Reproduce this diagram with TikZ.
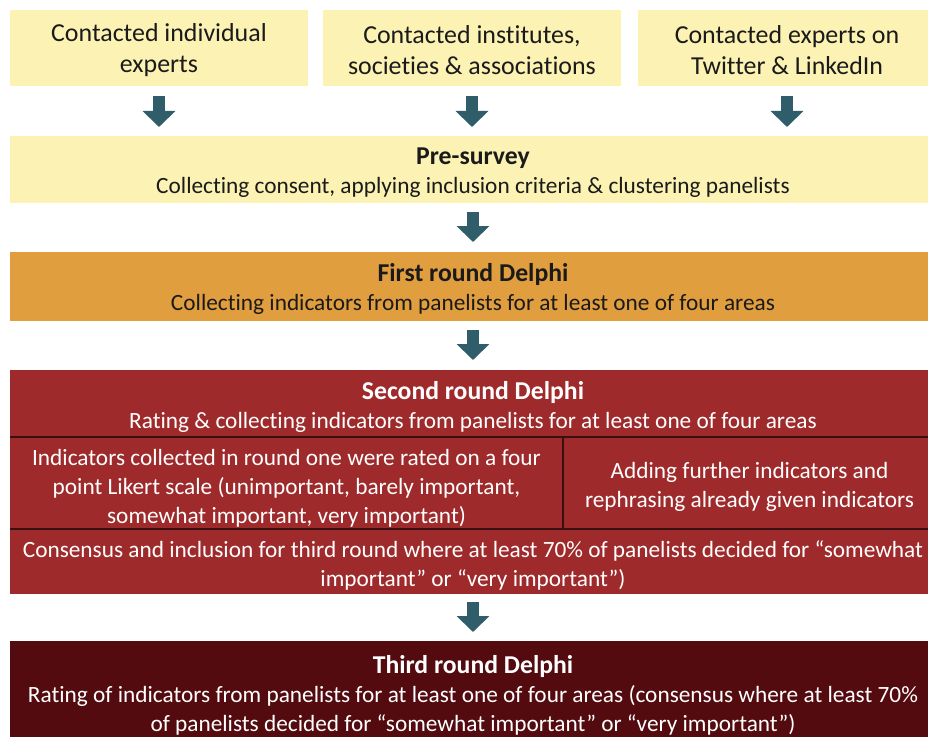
\documentclass[tikz,border=0pt]{standalone}
\usepackage{fontspec}
\setmainfont{Carlito}[Ligatures={NoCommon}]
\usetikzlibrary{arrows.meta}
\definecolor{lightyel}{HTML}{FCF2B3}
\definecolor{orng}{HTML}{E09E3E}
\definecolor{redbox}{HTML}{9E2A2B}
\definecolor{darkred}{HTML}{530B10}
\definecolor{teal}{HTML}{2F5D69}
\definecolor{divline}{HTML}{3A0F10}
\definecolor{txt}{HTML}{1A1A1A}
\newcommand{\ttl}[1]{{\fontsize{25.7bp}{29bp}\selectfont\bfseries #1}}
\tikzset{
  box/.style={rectangle, inner sep=0pt, outer sep=0pt, draw=none},
  srcbox/.style={box, fill=lightyel, minimum width=298bp, minimum height=76bp},
  widebox/.style={box, minimum width=926bp},
  srctext/.style={inner sep=0pt, align=center, text=txt, font=\fontsize{25.9bp}{31bp}\selectfont},
  bodytext/.style={inner sep=0pt, align=center, font=\fontsize{23.3bp}{29bp}\selectfont},
  flow/.style={teal, line width=12bp, -{Triangle[width=32bp,length=16bp]}},
  divider/.style={divline, line width=1.2bp}
}
\begin{document}
\begin{tikzpicture}[x=1bp,y=-1bp]
\clip (0,0) rectangle (928,737);
\fill[white] (0,0) rectangle (928,737);
% source boxes
\node[srcbox] (s1) at (159,48) {};
\node[srcbox] (s2) at (472,48) {};
\node[srcbox] (s3) at (787,48) {};
\node[srctext] (s1t) at ([yshift=-2bp]s1.center) {Contacted individual\\experts};
\node[srctext] (s2t) at ([yshift=-2bp]s2.center) {Contacted institutes,\\societies \& associations};
\node[srctext] (s3t) at ([yshift=-2bp]s3.center) {Contacted experts on\\Twitter \& LinkedIn};
% pre-survey
\node[widebox, fill=lightyel, minimum height=67bp] (pre) at (473,169.5) {};
\node[bodytext, text=txt] (pret) at ([yshift=-3bp]pre.center)
  {\ttl{Pre-survey}\\Collecting consent, applying inclusion criteria \& clustering panelists};
% first round
\node[widebox, fill=orng, minimum height=69bp] (r1) at (473,286.5) {};
\node[bodytext, text=txt] (r1t) at ([yshift=-2bp]r1.center)
  {\ttl{First round Delphi}\\Collecting indicators from panelists for at least one of four areas};
% second round
\node[widebox, fill=redbox, minimum height=67bp] (r2) at (473,403.5) {};
\node[box, fill=redbox, minimum width=553bp, minimum height=92bp] (r2a) at (286.5,483) {};
\node[box, fill=redbox, minimum width=373bp, minimum height=92bp] (r2b) at (749.5,483) {};
\node[widebox, fill=redbox, minimum height=65bp] (r2c) at (473,561.5) {};
\node[bodytext, text=white] (r2t) at ([yshift=-3bp]r2.center)
  {\ttl{Second round Delphi}\\Rating \& collecting indicators from panelists for at least one of four areas};
\node[bodytext, text=white] (r2at) at ([yshift=-5bp]r2a.center)
  {Indicators collected in round one were rated on a four\\point Likert scale (unimportant, barely important,\\somewhat important, very important)};
\node[bodytext, text=white] (r2bt) at ([yshift=-4bp]r2b.center)
  {Adding further indicators and\\rephrasing already given indicators};
\node[bodytext, text=white] (r2ct) at ([yshift=-4bp]r2c.center)
  {Consensus and inclusion for third round where at least 70\% of panelists decided for “somewhat\\important” or “very important”)};
\draw[divider] (r2.south west) -- (r2.south east);
\draw[divider] (r2c.north west) -- (r2c.north east);
\draw[divider] (r2a.north east) -- (r2a.south east);
% third round
\node[widebox, fill=darkred, minimum height=106bp] (r3) at (473,694) {};
\node[bodytext, text=white] (r3t) at ([yshift=-1bp]r3.center)
  {\ttl{Third round Delphi}\\Rating of indicators from panelists for at least one of four areas (consensus where at least 70\%\\of panelists decided for “somewhat important” or “very important”)};
% arrows
\draw[flow] ([yshift=-10bp]s1.south) -- ([yshift=9bp]s1.south |- pre.north);
\draw[flow] ([yshift=-10bp]s2.south) -- ([yshift=9bp]s2.south |- pre.north);
\draw[flow] ([yshift=-10bp]s3.south) -- ([yshift=9bp]s3.south |- pre.north);
\draw[flow] ([yshift=-9bp]pre.south) -- ([yshift=10bp]r1.north);
\draw[flow] ([yshift=-9bp]r1.south) -- ([yshift=10bp]r2.north);
\draw[flow] ([yshift=-8bp]r2c.south) -- ([yshift=9bp]r3.north);
\end{tikzpicture}
\end{document}
